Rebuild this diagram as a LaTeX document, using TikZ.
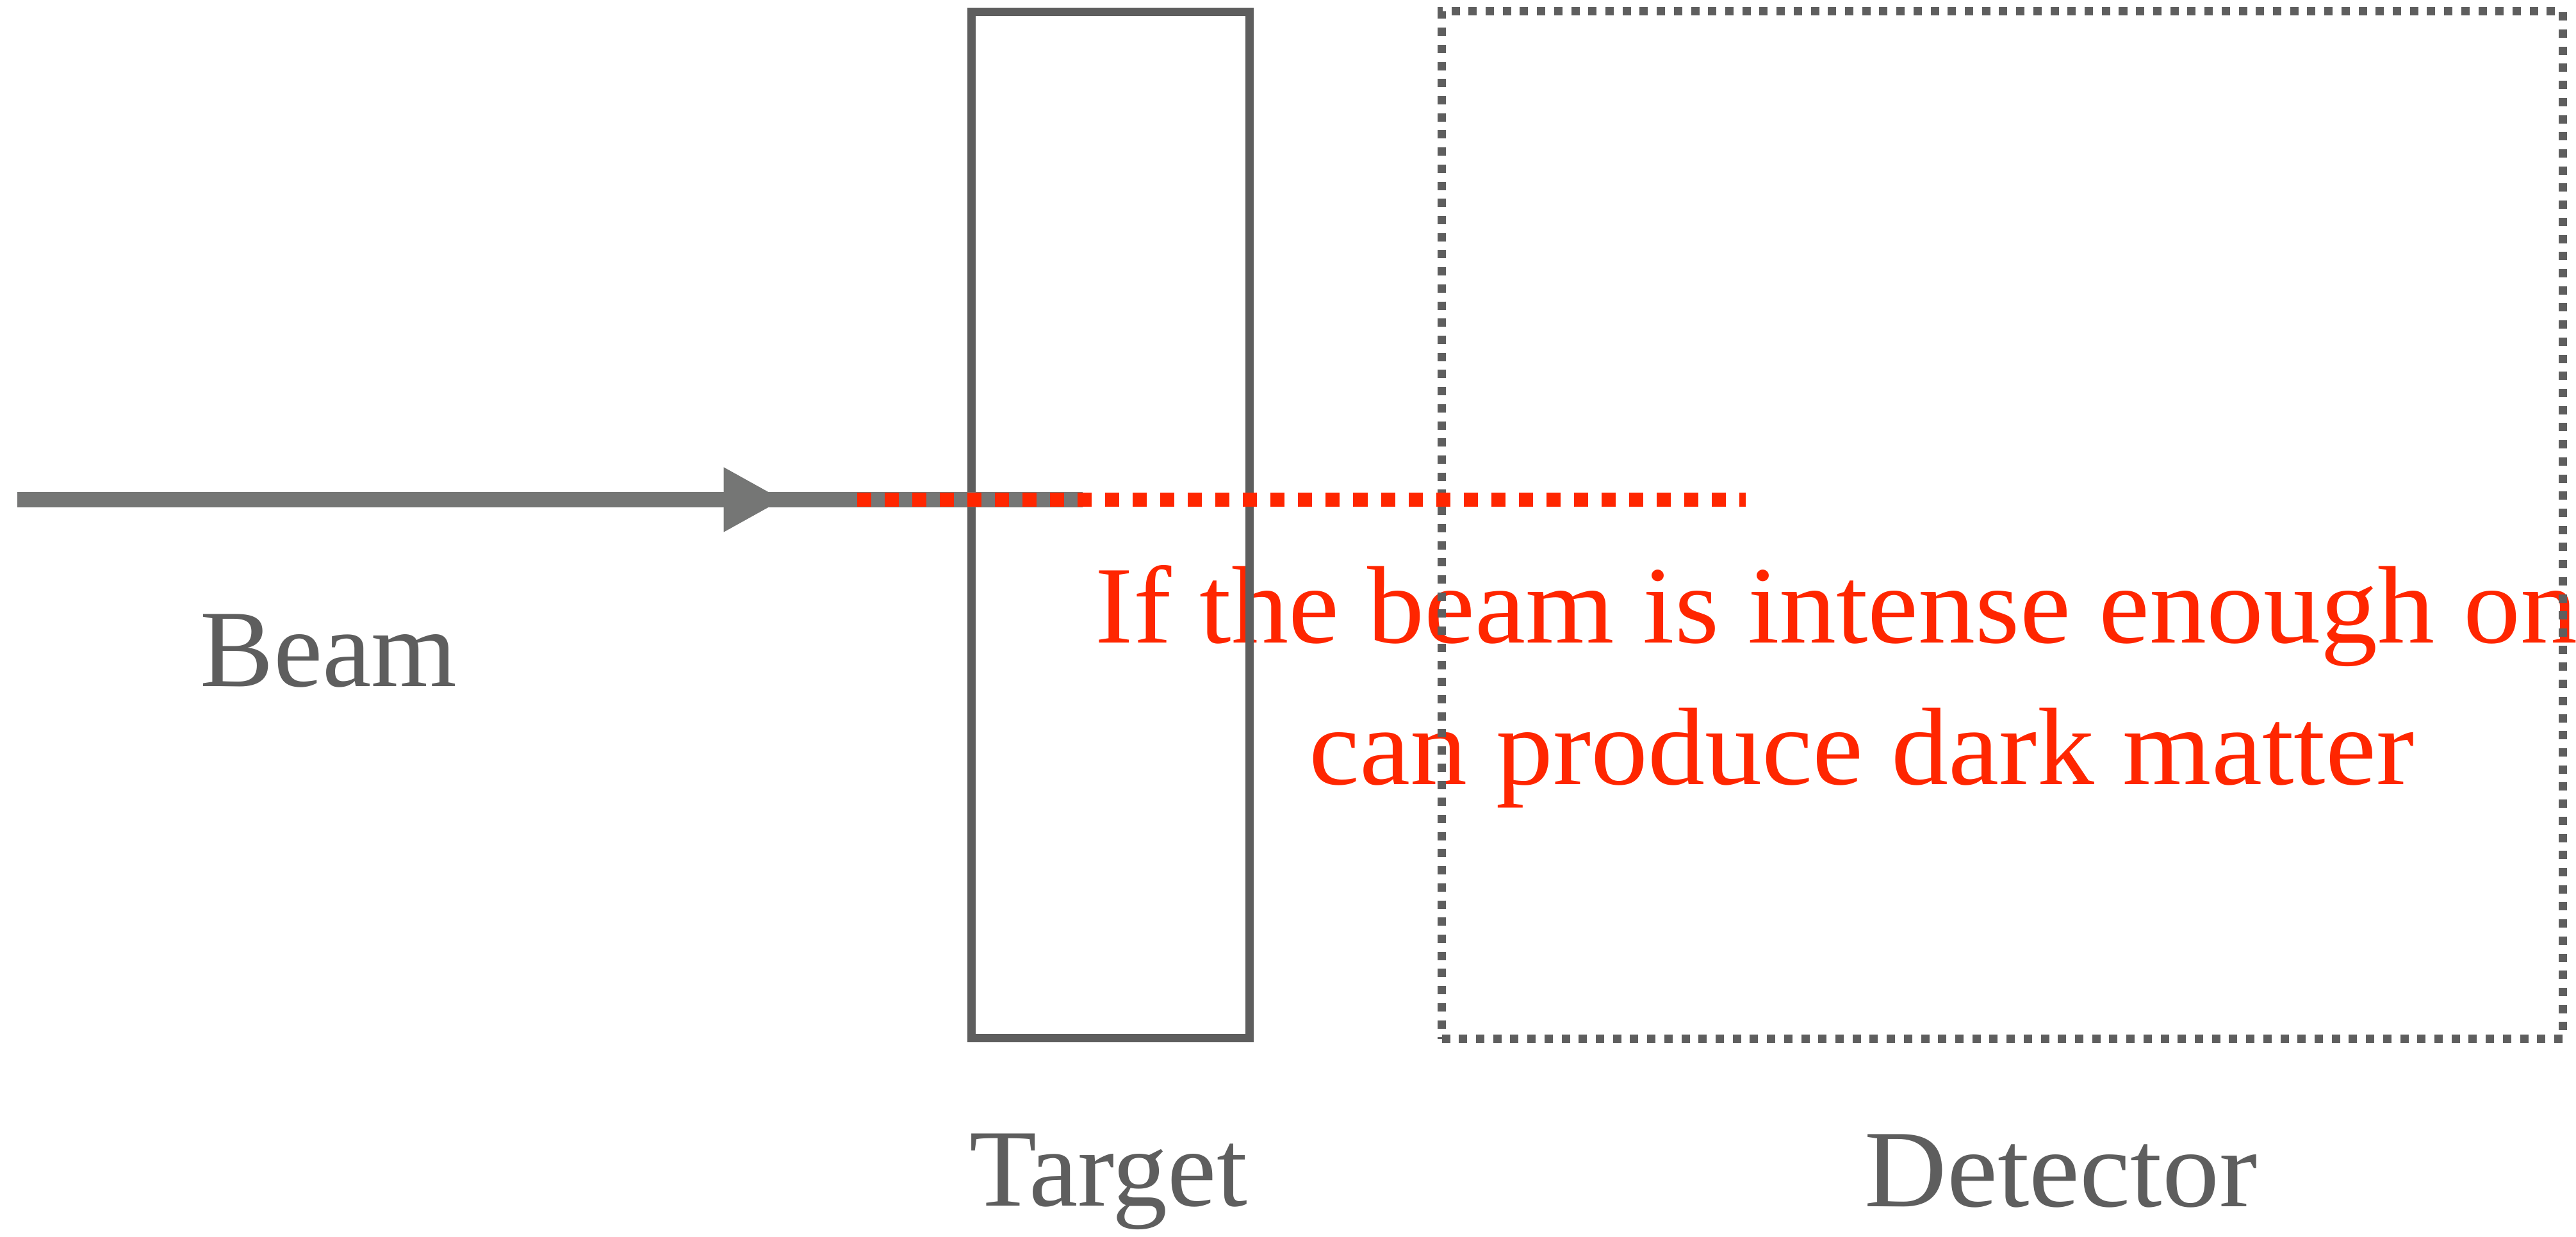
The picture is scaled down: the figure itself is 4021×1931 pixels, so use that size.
\documentclass[tikz,border=0pt]{standalone}
\usepackage{fontspec}
\setmainfont{Liberation Serif}
\newfontfamily\widefont[FakeStretch=1.035]{Liberation Serif}
\usetikzlibrary{arrows.meta, decorations.markings}
\definecolor{boxgray}{RGB}{94,94,94}
\definecolor{beamgray}{RGB}{117,118,117}
\definecolor{dmred}{RGB}{255,38,0}

\begin{document}
\begin{tikzpicture}[x=0.01cm, y=-0.01cm,
    bigfont/.style={font=\fontsize{48.9}{62.6}\selectfont, inner sep=0pt},
    widebig/.style={font=\widefont\fontsize{48.9}{62.6}\selectfont, inner sep=0pt},
    lbl/.style={bigfont, text=boxgray, anchor=base},
    frame/.style={draw=boxgray, line width=0.13cm, inner sep=0pt},
    beam/.style={draw=beamgray, line width=0.24cm,
        postaction={decorate},
        decoration={markings, mark=at position 11.95cm with {\arrow{Triangle[length=0.93cm, width=0.94cm]}}}},
    dm/.style={draw=dmred, line width=0.22cm, dash pattern=on 0.22cm off 0.21cm}]
    \useasboundingbox (0,0) rectangle (4021,1931);

    % red note sits under the boxes
    \node[widebig, text=dmred, align=center, anchor=base] (note) at (2906,1224)
        {If the beam is intense enough on\phantom{e}\\can produce dark matter};

    \node[frame, minimum width=4.33cm, minimum height=16.01cm] (target) at (1733.5,819.5) {};
    \node[frame, dash pattern=on 0.13cm off 0.137cm, minimum width=17.49cm, minimum height=16.03cm] (detector) at (3125.5,819.7) {};

    \node[lbl] (beamlbl) at (513,1071) {Beam};
    \node[lbl] (targetlbl) at (1730,1882) {Target};
    \node[lbl, widebig] (detectorlbl) at (3217,1883) {Detector};

    \coordinate (src) at (27,780);
    \coordinate (beamend) at (1690,780);
    \coordinate (dmstart) at (1338,780);
    \coordinate (dmend) at (2725,780);

    \draw[beam] (src) -- (beamend);
    \draw[dm] (dmstart) -- (dmend);
\end{tikzpicture}
\end{document}
